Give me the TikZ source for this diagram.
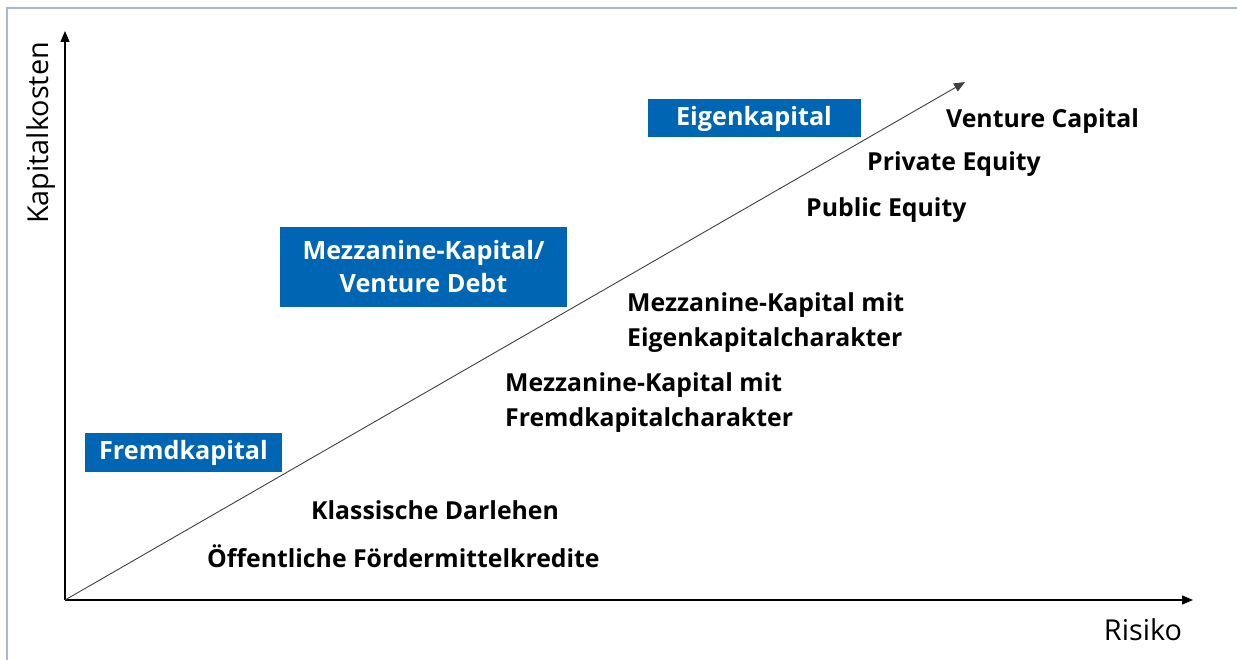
\documentclass[tikz,border=0pt]{standalone}
\usepackage{fontspec}
\setmainfont{Open Sans}
\usetikzlibrary{arrows.meta}
\definecolor{boxblue}{RGB}{0,102,179}
\definecolor{framecol}{RGB}{170,186,204}
\tikzset{
  catbox/.style={fill=boxblue, text=white, font=\fontsize{25.2}{28}\selectfont\bfseries, inner sep=0pt, align=center},
  item/.style={font=\fontsize{24.8}{35}\selectfont\bfseries, inner sep=0pt, align=left, text=black},
  axislabel/.style={font=\fontsize{28.8}{30}\selectfont, inner sep=0pt},
  axisline/.style={line width=1.4pt, -{Triangle[length=11pt,width=9pt]}},
  diagline/.style={line width=0.9pt, draw=black!75, -{Triangle[length=11pt,width=9pt]}}
}
\begin{document}
\begin{tikzpicture}[x=1pt,y=-1pt]
\useasboundingbox (0,0) rectangle (1237,660);
\draw[framecol, line width=2pt] (1237,8) -- (7,8) -- (7,660);
\coordinate (O) at (65,600);
\coordinate (ytip) at (65,31);
\coordinate (xtip) at (1193,600);
\coordinate (dtip) at (965,82);
\draw[axisline] (O) -- (ytip);
\draw[axisline] (O) -- (xtip);
\draw[diagline] (O) -- (dtip);
\node[axislabel, rotate=90] (ylab) at (41,133) {Kapitalkosten};
\node[axislabel] (xlab) at (1143,630) {Risiko};
\node[catbox, minimum width=213pt, minimum height=38pt] (ek) at (754,118.5) {Eigenkapital};
\node[catbox, minimum width=287pt, minimum height=80pt, font=\fontsize{25.2}{33}\selectfont\bfseries] (mz) at (423.5,267) {Mezzanine-Kapital/\\Venture Debt};
\node[catbox, minimum width=197pt, minimum height=39pt] (fk) at (183.5,452.5) {Fremdkapital};
\node[item, anchor=west] (vc) at (946,121) {Venture Capital};
\node[item, anchor=west] (pe) at (867,164) {Private Equity};
\node[item, anchor=west] (pu) at (806,210) {Public Equity};
\node[item, anchor=west] (mek) at (627,323) {Mezzanine-Kapital mit\\Eigenkapitalcharakter};
\node[item, anchor=west] (mfk) at (505,403) {Mezzanine-Kapital mit\\Fremdkapitalcharakter};
\node[item, anchor=west] (kd) at (311,510) {Klassische Darlehen};
\node[item, anchor=west] (of) at (207,556) {Öffentliche Fördermittelkredite};
\end{tikzpicture}
\end{document}
